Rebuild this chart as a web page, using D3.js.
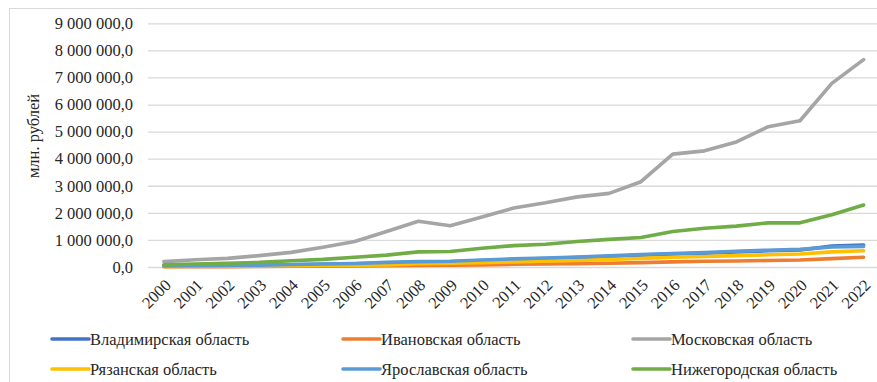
<!DOCTYPE html>
<html>
<head>
<meta charset="utf-8">
<script src="https://cdn.jsdelivr.net/npm/d3@7"></script>
<style>
  html, body { margin: 0; padding: 0; background: #fff; }
</style>
</head>
<body>
<svg id="chart" width="877" height="382"></svg>
<script>
// Years on the category axis
const years = ["2000","2001","2002","2003","2004","2005","2006","2007","2008","2009","2010","2011",
               "2012","2013","2014","2015","2016","2017","2018","2019","2020","2021","2022"];

// Regional values in trillion roubles; the axis shows million roubles
const vladimir  = [0.03,0.04,0.05,0.06,0.08,0.10,0.12,0.15,0.18,0.19,0.24,0.28,0.31,0.35,0.39,0.44,0.48,0.51,0.56,0.60,0.63,0.77,0.81];
const ivanovo   = [0.01,0.012,0.015,0.02,0.025,0.03,0.035,0.05,0.06,0.065,0.08,0.10,0.11,0.12,0.14,0.16,0.19,0.21,0.22,0.24,0.26,0.31,0.36];
const moscow    = [0.20,0.27,0.32,0.42,0.54,0.73,0.94,1.31,1.69,1.52,1.85,2.18,2.37,2.59,2.72,3.15,4.17,4.29,4.62,5.18,5.40,6.78,7.66];
const ryazan    = [0.02,0.025,0.03,0.035,0.045,0.055,0.065,0.08,0.12,0.14,0.16,0.19,0.22,0.24,0.28,0.32,0.36,0.39,0.42,0.45,0.48,0.56,0.60];
const yaroslavl = [0.04,0.05,0.06,0.07,0.09,0.11,0.13,0.17,0.20,0.21,0.26,0.30,0.33,0.37,0.41,0.46,0.50,0.53,0.58,0.62,0.65,0.74,0.76];
const nizhny    = [0.08,0.11,0.14,0.17,0.23,0.28,0.36,0.44,0.56,0.57,0.69,0.79,0.84,0.94,1.02,1.09,1.31,1.43,1.51,1.63,1.63,1.93,2.29];

const seriesNames = ["Владимирская область","Ивановская область","Московская область",
                     "Рязанская область","Ярославская область","Нижегородская область"];
const seriesValues = [vladimir, ivanovo, moscow, ryazan, yaroslavl, nizhny];
const seriesColors = ["#4472C4","#ED7D31","#A5A5A5","#FFC000","#5B9BD5","#70AD47"];

const yTicks = [0,1e6,2e6,3e6,4e6,5e6,6e6,7e6,8e6,9e6];
const yTitle = "млн. рублей";

const FONT = "'Liberation Serif'";
const TEXT = "#262626";
const svg = d3.select("#chart");
const plot = { left: 148, right: 879.5, top: 23.3, bottom: 267 };

// outer frame
svg.append("rect")
  .attr("x", 9.5).attr("y", 8.5).attr("width", 900).attr("height", 400)
  .attr("fill", "none").attr("stroke", "#d9d9d9").attr("stroke-width", 1);

const x = d3.scalePoint().domain(years).range([plot.left, plot.right]).padding(0.5);
const y = d3.scaleLinear().domain([0, 9e6]).range([plot.bottom, plot.top]);

// number format: "9 000 000,0"
const fmt = v => d3.format(",.1f")(v).replace(/,/g, "\u00a0").replace(".", ",");

// horizontal gridlines and value labels
const yAxis = d3.axisLeft(y).tickValues(yTicks).tickSize(-(plot.right - plot.left)).tickFormat(fmt).tickPadding(15);
const gy = svg.append("g").attr("transform", `translate(${plot.left},0)`).call(yAxis);
gy.select(".domain").remove();
gy.selectAll(".tick line").attr("stroke", "#d9d9d9").attr("stroke-width", 1.3);
gy.selectAll(".tick text")
  .style("font-family", FONT).style("font-size", "16.5px").attr("fill", TEXT);

// category labels, rotated
svg.append("g").selectAll("text").data(years).join("text")
  .attr("transform", d => `translate(${x(d) + 4},${282}) rotate(-45)`)
  .attr("text-anchor", "end").attr("dy", "0.35em")
  .style("font-family", FONT).style("font-size", "16.5px").attr("fill", TEXT)
  .text(d => d);

// axis title
svg.append("text")
  .attr("transform", `translate(33,${136}) rotate(-90)`)
  .attr("text-anchor", "middle").attr("dy", "0.35em")
  .style("font-family", FONT).style("font-size", "16.5px").attr("fill", TEXT)
  .text(yTitle);

// series lines
const line = d3.line().x((d, i) => x(years[i])).y(d => y(d * 1e6));
seriesValues.forEach((vals, k) => {
  svg.append("path")
    .datum(vals)
    .attr("d", line)
    .attr("fill", "none")
    .attr("stroke", seriesColors[k])
    .attr("stroke-width", 3.6)
    .attr("stroke-linejoin", "round")
    .attr("stroke-linecap", "round");
});

// legend: two rows of three
const legCols = [52, 343, 633];
const legRows = [339, 369];
seriesNames.forEach((name, k) => {
  const cx = legCols[k % 3], cy = legRows[Math.floor(k / 3)];
  const g = svg.append("g").attr("transform", `translate(${cx},${cy})`);
  g.append("line").attr("x1", 0).attr("x2", 37).attr("y1", 0).attr("y2", 0)
    .attr("stroke", seriesColors[k]).attr("stroke-width", 3.6).attr("stroke-linecap", "round");
  g.append("text").attr("x", 38).attr("dy", "0.35em")
    .style("font-family", FONT).style("font-size", "16.5px").attr("fill", TEXT)
    .text(name);
});
</script>
</body>
</html>
